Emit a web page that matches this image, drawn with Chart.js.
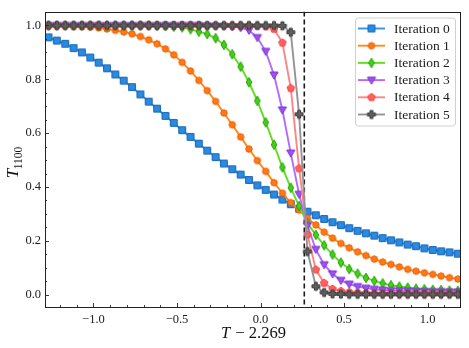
<!DOCTYPE html>
<html>
<head>
<meta charset="utf-8">
<script src="https://cdn.jsdelivr.net/npm/chart.js@4.4.1/dist/chart.umd.min.js"></script>
<style>
html,body{margin:0;padding:0;background:#fff;}
#wrap{width:469px;height:348px;}
</style>
</head>
<body>
<div id="wrap"><canvas id="c" width="469" height="348"></canvas></div>
<script>
// Temperature grid (T) and shift
const temps = [1.00,1.05,1.10,1.15,1.20,1.25,1.30,1.35,1.40,1.45,1.50,1.55,1.60,1.65,1.70,1.75,1.80,1.85,1.90,1.95,
  2.00,2.05,2.10,2.15,2.20,2.25,2.30,2.35,2.40,2.45,2.50,2.55,2.60,2.65,2.70,2.75,2.80,2.85,2.90,2.95,
  3.00,3.05,3.10,3.15,3.20,3.25,3.30,3.35,3.40,3.45];
const tShift = 2.269;
const criticalX = 0.262;

const iter0 = [0.956,0.944,0.932,0.916,0.900,0.881,0.862,0.841,0.818,0.795,0.771,0.744,0.717,0.691,0.664,0.638,0.611,0.586,0.561,0.535,
  0.511,0.487,0.466,0.446,0.426,0.406,0.389,0.372,0.353,0.336,0.319,0.308,0.295,0.281,0.269,0.258,0.247,0.237,0.228,0.219,
  0.210,0.202,0.194,0.186,0.180,0.172,0.166,0.161,0.157,0.152];
const iter1 = [0.999,0.999,0.998,0.997,0.996,0.994,0.991,0.987,0.982,0.976,0.969,0.959,0.947,0.932,0.913,0.891,0.863,0.831,0.796,0.758,
  0.718,0.675,0.631,0.586,0.541,0.498,0.458,0.416,0.377,0.342,0.314,0.284,0.259,0.232,0.210,0.190,0.174,0.159,0.145,0.132,
  0.121,0.112,0.103,0.094,0.087,0.081,0.075,0.069,0.063,0.058];
const iter2 = [1.000,1.000,1.000,1.000,1.000,1.000,1.000,1.000,1.000,1.000,1.000,1.000,1.000,0.999,0.998,0.996,0.993,0.986,0.977,0.968,
  0.953,0.928,0.893,0.847,0.789,0.720,0.640,0.557,0.473,0.397,0.329,0.265,0.222,0.183,0.149,0.119,0.095,0.078,0.062,0.051,
  0.042,0.035,0.030,0.026,0.022,0.020,0.018,0.017,0.015,0.014];
const iter3 = [1.000,1.000,1.000,1.000,1.000,1.000,1.000,1.000,1.000,1.000,1.000,1.000,1.000,1.000,1.000,1.000,1.000,1.000,1.000,0.999,
  0.998,0.997,0.995,0.992,0.982,0.955,0.904,0.816,0.686,0.526,0.373,0.257,0.168,0.111,0.077,0.053,0.039,0.030,0.024,0.020,
  0.017,0.015,0.014,0.013,0.012,0.012,0.011,0.011,0.010,0.010];
const iter4 = [1.000,1.000,1.000,1.000,1.000,1.000,1.000,1.000,1.000,1.000,1.000,1.000,1.000,1.000,1.000,1.000,1.000,1.000,1.000,1.000,
  1.000,1.000,1.000,1.000,1.000,0.999,0.997,0.987,0.936,0.767,0.469,0.223,0.093,0.043,0.021,0.013,0.009,0.007,0.006,0.005,
  0.005,0.005,0.004,0.004,0.004,0.004,0.004,0.004,0.004,0.004];
const iter5 = [1.000,1.000,1.000,1.000,1.000,1.000,1.000,1.000,1.000,1.000,1.000,1.000,1.000,1.000,1.000,1.000,1.000,1.000,1.000,1.000,
  1.000,1.000,1.000,1.000,1.000,1.000,1.000,1.000,0.999,0.975,0.670,0.160,0.031,0.008,0.003,0.002,0.001,0.001,0.001,0.001,
  0.001,0.001,0.001,0.001,0.001,0.001,0.001,0.001,0.001,0.001];

const seriesNames = ['Iteration 0','Iteration 1','Iteration 2','Iteration 3','Iteration 4','Iteration 5'];
const seriesValues = [iter0, iter1, iter2, iter3, iter4, iter5];

const xTicks = [-1.0, -0.5, 0.0, 0.5, 1.0];
const yTicks = [0.0, 0.2, 0.4, 0.6, 0.8, 1.0];
const xMinorStep = 0.1;
const yMinorStep = 0.05;

const styles = [
  {shape:'square',   line:'#2f95e6', fill:'#2a8be0', edge:'#1664b8'},
  {shape:'circle',   line:'#ff8c1a', fill:'#ff7a16', edge:'#f05a00'},
  {shape:'thindiamond', line:'#5ede1e', fill:'#46cf18', edge:'#1d9e00'},
  {shape:'tridown',  line:'#b46aff', fill:'#9c52f2', edge:'#7a32d2'},
  {shape:'pentagon', line:'#ff8585', fill:'#ff6262', edge:'#ff3a3a'},
  {shape:'plus',     line:'#939393', fill:'#5e5e5e', edge:'#3c3c3c'}
];

function makeMarker(st){
  const S = 14;
  const c = document.createElement('canvas');
  c.width = S; c.height = S;
  const g = c.getContext('2d');
  const cx = S/2, cy = S/2;
  g.beginPath();
  if (st.shape === 'square'){
    g.rect(cx-3.4, cy-3.4, 6.8, 6.8);
  } else if (st.shape === 'circle'){
    g.arc(cx, cy, 3.2, 0, Math.PI*2);
  } else if (st.shape === 'thindiamond'){
    g.moveTo(cx, cy-4.8); g.lineTo(cx+2.8, cy); g.lineTo(cx, cy+4.8); g.lineTo(cx-2.8, cy); g.closePath();
  } else if (st.shape === 'tridown'){
    g.moveTo(cx-4.1, cy-3.0); g.lineTo(cx+4.1, cy-3.0); g.lineTo(cx, cy+4.1); g.closePath();
  } else if (st.shape === 'pentagon'){
    const r = 3.9;
    for (let k=0;k<5;k++){
      const a = -Math.PI/2 + k*2*Math.PI/5;
      const px = cx + r*Math.cos(a), py = cy + r*Math.sin(a);
      if (k===0) g.moveTo(px,py); else g.lineTo(px,py);
    }
    g.closePath();
  } else if (st.shape === 'plus'){
    const a = 1.5, b = 4.0;
    g.moveTo(cx-a, cy-b); g.lineTo(cx+a, cy-b); g.lineTo(cx+a, cy-a); g.lineTo(cx+b, cy-a);
    g.lineTo(cx+b, cy+a); g.lineTo(cx+a, cy+a); g.lineTo(cx+a, cy+b); g.lineTo(cx-a, cy+b);
    g.lineTo(cx-a, cy+a); g.lineTo(cx-b, cy+a); g.lineTo(cx-b, cy-a); g.lineTo(cx-a, cy-a); g.closePath();
  }
  g.fillStyle = st.fill; g.fill();
  g.lineWidth = 1; g.strokeStyle = st.edge; g.stroke();
  return c;
}
const markers = styles.map(makeMarker);

const datasets = seriesValues.map((vals, k) => ({
  label: seriesNames[k],
  data: vals.map((v, i) => ({x: temps[i] - tShift, y: v})),
  borderColor: styles[k].line,
  backgroundColor: styles[k].fill,
  borderWidth: 1.9,
  pointStyle: markers[k],
  pointRadius: 4,
  pointHoverRadius: 4,
  showLine: true,
  fill: false,
  tension: 0,
  order: 5 - k
}));

const SERIF = '"Liberation Serif", "DejaVu Serif", serif';
function fmt(v){
  const s = Math.abs(v).toFixed(1);
  return (v < -1e-9 ? '\u2212' : '') + s;
}

const decorPlugin = {
  id: 'decor',
  beforeDatasetsDraw(chart){
    const ctx = chart.ctx, a = chart.chartArea, xs = chart.scales.x;
    const px = xs.getPixelForValue(criticalX);
    ctx.save();
    ctx.beginPath();
    ctx.rect(a.left, a.top, a.right - a.left, a.bottom - a.top);
    ctx.clip();
    ctx.strokeStyle = '#1a1a1a';
    ctx.lineWidth = 1.6;
    ctx.setLineDash([5, 3]);
    ctx.beginPath();
    ctx.moveTo(px, a.top); ctx.lineTo(px, a.bottom);
    ctx.stroke();
    ctx.restore();
  },
  afterDraw(chart){
    const ctx = chart.ctx, a = chart.chartArea;
    const xs = chart.scales.x, ys = chart.scales.y;
    ctx.save();
    // frame
    ctx.strokeStyle = '#222';
    ctx.lineWidth = 1;
    ctx.strokeRect(Math.round(a.left)+0.5, Math.round(a.top)+0.5, Math.round(a.right-a.left)-1, Math.round(a.bottom-a.top)-1);
    // ticks
    ctx.lineWidth = 0.9;
    ctx.beginPath();
    for (let v = -1.2; v <= 1.2001; v += xMinorStep){
      const vv = Math.round(v*10)/10;
      const p = Math.round(xs.getPixelForValue(vv)) + 0.5;
      if (p < a.left || p > a.right) continue;
      const major = xTicks.some(t => Math.abs(t - vv) < 1e-6);
      const L = major ? 4 : 2;
      ctx.moveTo(p, a.bottom); ctx.lineTo(p, a.bottom - L);
    }
    for (let v = 0; v <= 1.0001; v += yMinorStep){
      const vv = Math.round(v*100)/100;
      const p = Math.round(ys.getPixelForValue(vv)) + 0.5;
      const major = yTicks.some(t => Math.abs(t - vv) < 1e-6);
      const L = major ? 4 : 2;
      ctx.moveTo(a.left, p); ctx.lineTo(a.left + L, p);
    }
    ctx.stroke();

    // x title
    ctx.fillStyle = '#111';
    ctx.textBaseline = 'alphabetic';
    ctx.font = 'italic 16.5px ' + SERIF;
    const tW = ctx.measureText('T').width;
    ctx.font = '16.5px ' + SERIF;
    const restX = ' \u2212 2.269';
    const rW = ctx.measureText(restX).width;
    const cxm = (a.left + a.right) / 2;
    let sx = cxm - (tW + rW) / 2;
    ctx.font = 'italic 16.5px ' + SERIF;
    ctx.fillText('T', sx, 338);
    ctx.font = '16.5px ' + SERIF;
    ctx.fillText(restX, sx + tW + 1, 338);

    // y title (rotated)
    ctx.save();
    ctx.translate(18, (a.top + a.bottom) / 2 + 3);
    ctx.rotate(-Math.PI / 2);
    ctx.font = 'italic 17px ' + SERIF;
    const tw2 = ctx.measureText('T').width;
    ctx.font = '11.5px ' + SERIF;
    const sw = ctx.measureText('1100').width;
    const start = -(tw2 + sw) / 2;
    ctx.font = 'italic 17px ' + SERIF;
    ctx.fillText('T', start, 0);
    ctx.font = '11.5px ' + SERIF;
    ctx.fillText('1100', start + tw2 - 0.5, 3.5);
    ctx.restore();

    // legend
    const bx = a.right - 106, by = a.top + 6, bw = 100, bh = 108;
    ctx.beginPath();
    if (ctx.roundRect) ctx.roundRect(bx+0.5, by+0.5, bw, bh, 3); else ctx.rect(bx+0.5, by+0.5, bw, bh);
    ctx.fillStyle = 'rgba(255,255,255,0.85)';
    ctx.fill();
    ctx.strokeStyle = '#d0d0d0';
    ctx.lineWidth = 1;
    ctx.stroke();
    ctx.font = '13.5px ' + SERIF;
    ctx.textBaseline = 'middle';
    for (let k = 0; k < seriesNames.length; k++){
      const ry = by + 11 + k * 17.2;
      ctx.strokeStyle = styles[k].line;
      ctx.lineWidth = 1.9;
      ctx.beginPath();
      ctx.moveTo(bx + 3, ry); ctx.lineTo(bx + 30, ry);
      ctx.stroke();
      const m = markers[k];
      ctx.drawImage(m, bx + 16.5 - m.width/2, ry - m.height/2);
      ctx.fillStyle = '#222';
      ctx.fillText(seriesNames[k], bx + 39, ry + 0.5);
    }
    ctx.restore();
  }
};

new Chart(document.getElementById('c'), {
  type: 'line',
  data: { datasets },
  options: {
    responsive: false,
    animation: false,
    layout: { padding: { left: 0, right: 8, top: 7, bottom: 0 } },
    plugins: { legend: { display: false }, tooltip: { enabled: false } },
    scales: {
      x: {
        type: 'linear',
        min: -1.29, max: 1.2,
        grid: { display: false, drawTicks: false },
        border: { display: false },
        afterBuildTicks: s => { s.ticks = xTicks.map(v => ({ value: v })); },
        afterFit: s => { s.height = 41; },
        ticks: {
          color: '#222',
          font: { family: SERIF, size: 12.5 },
          padding: 5,
          maxRotation: 0,
          callback: v => fmt(v)
        }
      },
      y: {
        type: 'linear',
        min: -0.046, max: 1.052,
        grid: { display: false, drawTicks: false },
        border: { display: false },
        afterBuildTicks: s => { s.ticks = yTicks.map(v => ({ value: v })); },
        afterFit: s => { s.width = 45; },
        ticks: {
          color: '#222',
          font: { family: SERIF, size: 12.5 },
          padding: 4,
          callback: v => fmt(v)
        }
      }
    }
  },
  plugins: [decorPlugin]
});
</script>
</body>
</html>
